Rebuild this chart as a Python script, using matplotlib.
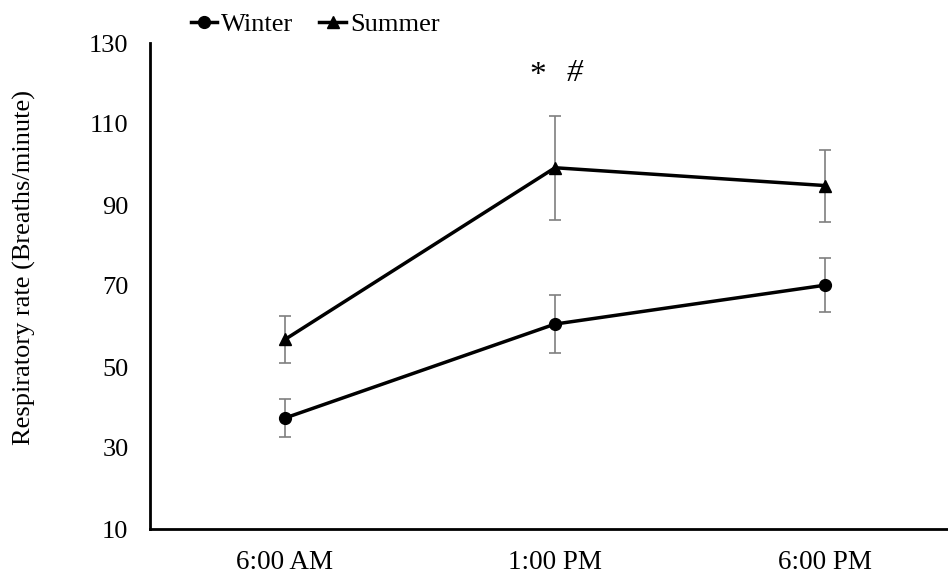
import numpy as np
import matplotlib.pyplot as plt

# ---------- data ----------
times = ["6:00 AM", "1:00 PM", "6:00 PM"]
winter = [37.4, 60.6, 70.2]
winter_err = [4.8, 7.2, 6.7]
summer = [56.8, 99.2, 94.8]
summer_err = [5.9, 12.8, 8.9]
y_ticks = [10, 30, 50, 70, 90, 110, 130]

plt.rcParams['font.family'] = ['Liberation Serif', 'DejaVu Serif']

fig = plt.figure(figsize=(9.48, 5.74), dpi=100)
ax = fig.add_axes([150 / 948, 1 - 529 / 574, 810 / 948, (529 - 43) / 574])

x = np.arange(len(times))

ax.errorbar(x, winter, yerr=winter_err, fmt='none', ecolor='#7f7f7f',
            elinewidth=1.2, capsize=4.5, capthick=1.2, zorder=2)
ax.errorbar(x, summer, yerr=summer_err, fmt='none', ecolor='#7f7f7f',
            elinewidth=1.2, capsize=4.5, capthick=1.2, zorder=2)
ax.plot(x, winter, color='black', lw=2.5, marker='o', ms=8.5, label='Winter', zorder=3)
ax.plot(x, summer, color='black', lw=2.5, marker='^', ms=8.5, label='Summer', zorder=3)

# significance marks above 1:00 PM
ax.text(0.937, 121.9, "*", fontsize=24, ha='center', va='center')
ax.text(1.074, 122.4, "#", fontsize=23, style='italic', ha='center', va='center')

ax.set_xlim(-0.5, 2.5)
ax.set_ylim(10, 130)
ax.set_xticks(x)
ax.set_xticklabels(times)
ax.set_yticks(y_ticks)
ax.tick_params(axis='y', length=0, labelsize=19, pad=15.5)
ax.tick_params(axis='x', length=0, labelsize=19.5, pad=15)
ax.set_ylabel("Respiratory rate (Breaths/minute)", fontsize=19)
ax.yaxis.set_label_coords(-0.141, 0.539)

for side in ['top', 'right']:
    ax.spines[side].set_visible(False)
for side in ['left', 'bottom']:
    ax.spines[side].set_linewidth(2)

ax.legend(loc='center left', bbox_to_anchor=(0.05, 1.038), ncol=2, frameon=False,
          fontsize=19, handlelength=1.0, handletextpad=0.15, columnspacing=1.0,
          borderaxespad=0, borderpad=0)

fig.savefig("out.png", dpi=100)
